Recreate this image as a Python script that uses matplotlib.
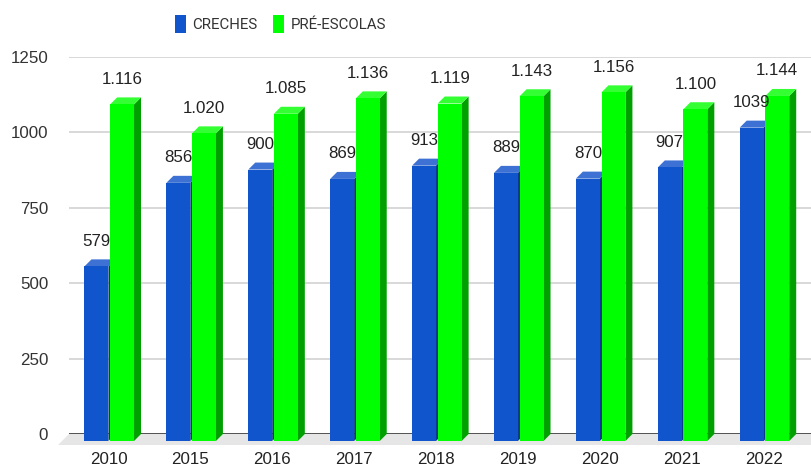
import matplotlib
matplotlib.use('Agg')
import matplotlib.pyplot as plt
from matplotlib.patches import Polygon, Patch, Rectangle
from matplotlib.font_manager import FontProperties

years = ['2010', '2015', '2016', '2017', '2018', '2019', '2020', '2021', '2022']
creches = [579, 856, 900, 869, 913, 889, 870, 907, 1039]
pre_escolas = [1116, 1020, 1085, 1136, 1119, 1143, 1156, 1100, 1144]
yticks = [0, 250, 500, 750, 1000, 1250]
series_names = ['CRECHES', 'PRÉ-ESCOLAS']

plt.rcParams['font.family'] = ['Liberation Sans', 'DejaVu Sans']

W, H = 811, 466
fig = plt.figure(figsize=(W / 100, H / 100), dpi=100)
ax = fig.add_axes([69 / W, 32 / H, (811 - 69) / W, (434 - 57) / H])
XMIN, XMAX = -0.482, 8.578
ax.set_xlim(XMIN, XMAX)
ax.set_ylim(0, 1250)

px_x = (811 - 69) / (XMAX - XMIN)
px_y = (434 - 57) / 1250.0
def dxu(p):
    return p / px_x
def dyu(p):
    return p / px_y

for s in ax.spines.values():
    s.set_visible(False)

# gridlines
for y in yticks[1:]:
    ax.axhline(y, color='#d6d6d6', lw=1.3, zorder=1)
ax.axhline(0, color='#333333', lw=1.2, zorder=2)

# floor
fl = dxu(11)
fd = dyu(11)
floor = Polygon([(XMIN, 0), (XMAX + 0.2, 0), (XMAX + 0.2 - fl, -fd), (XMIN - fl, -fd)],
                closed=True, facecolor='#e6e6e6', edgecolor='none', zorder=0.5, clip_on=False)
ax.add_patch(floor)

w = 0.292
ddx = dxu(7)
ddy = dyu(7)
drop = dyu(7)

def draw_bar(xc, v, cf, ct, cs, label):
    x0, x1 = xc - w / 2, xc + w / 2
    yb = -drop
    yt = v - drop
    ax.add_patch(Polygon([(x1, yb), (x1 + ddx, yb + ddy), (x1 + ddx, v), (x1, yt)],
                         closed=True, facecolor=cs, edgecolor='none', zorder=3, clip_on=False))
    ax.add_patch(Polygon([(x0, yt), (x1, yt), (x1 + ddx, yt + ddy), (x0 + ddx, yt + ddy)],
                         closed=True, facecolor=ct, edgecolor='none', zorder=3, clip_on=False))
    ax.add_patch(Rectangle((x0, yb), w, v, facecolor=cf, edgecolor='none', zorder=3, clip_on=False))
    ax.annotate(label, (xc, yt), xytext=(0, 25), textcoords='offset pixels',
                ha='center', va='center', fontsize=12.2, color='#222222', zorder=5)

blue = ('#1155cc', '#3d72d4', '#0b3a8c')
green = ('#00ff00', '#33ff33', '#00a000')

for i, (b, g) in enumerate(zip(creches, pre_escolas)):
    draw_bar(i - 0.147, b, *blue, label=str(b))
    draw_bar(i + 0.166, g, *green, label=f"{g:,}".replace(',', '.'))

ax.set_yticks(yticks)
ax.set_yticklabels([str(t) for t in yticks], fontsize=12.2, color='#333333')
ax.set_xticks(range(len(years)))
ax.set_xticklabels(years, fontsize=12.2, color='#222222')
ax.tick_params(axis='y', length=0, pad=15)
ax.tick_params(axis='x', length=0, pad=13)

leg_font = FontProperties(family=['Roboto', 'Liberation Sans', 'DejaVu Sans'], size=10.8)
handles = [Patch(facecolor=blue[0], label=series_names[0]),
           Patch(facecolor=green[0], label=series_names[1])]
fig.legend(handles=handles, loc='center left', bbox_to_anchor=(175 / W, 1 - 24 / H), ncol=2,
           frameon=False, handlelength=0.72, handleheight=1.45, handletextpad=0.45,
           columnspacing=1.0, borderpad=0, borderaxespad=0, prop=leg_font,
           labelcolor='#333333')

fig.savefig('out.png', dpi=100)
